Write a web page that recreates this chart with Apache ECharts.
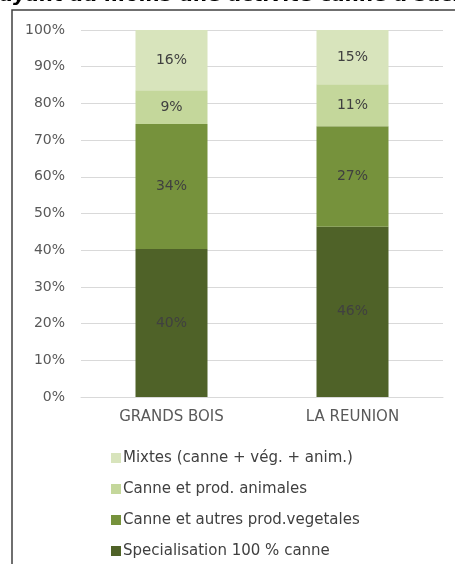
<!DOCTYPE html>
<html>
<head>
<meta charset="utf-8">
<style>
  html, body { margin: 0; padding: 0; background: #fff; }
  #chart { width: 455px; height: 564px; }
</style>
<script src="https://cdn.jsdelivr.net/npm/echarts@6/dist/echarts.min.js"></script>
</head>
<body>
<div id="chart"></div>
<script>
var categories = ['GRANDS BOIS', 'LA REUNION'];
var seriesNames = [
    'Specialisation 100 % canne',
    'Canne et autres prod.vegetales',
    'Canne et prod. animales',
    'Mixtes (canne + vég. + anim.)'
];
var specialisation = [40.3, 46.4];
var autresVegetales = [34.1, 27.4];
var prodAnimales = [9.2, 11.4];
var mixtes = [16.4, 14.8];
var yTicks = [0, 10, 20, 30, 40, 50, 60, 70, 80, 90, 100];

var colors = ['#4f6228', '#76923c', '#c4d79b', '#d8e4bc'];
var values = [specialisation, autresVegetales, prodAnimales, mixtes];
var font = 'DejaVu Sans';

~function () {
    var myChart = echarts.init(document.getElementById('chart'));
    var series = [];
    for (var i = 0; i < seriesNames.length; i++) {
        series.push({
            name: seriesNames[i],
            type: 'bar',
            stack: 'total',
            barWidth: 72,
            data: values[i],
            itemStyle: {color: colors[i]},
            label: {
                show: true,
                position: 'inside',
                color: '#404040',
                fontFamily: font,
                fontSize: 14,
                formatter: function (p) {
                    return Math.round(p.value) + '%';
                }
            }
        });
    }
    var option = {
        animation: false,
        color: colors,
        graphic: [
            {
                type: 'rect',
                shape: {x: 12, y: 10, width: 600, height: 700},
                style: {fill: 'none', stroke: '#404040', lineWidth: 1.5}
            },
            {
                type: 'text',
                x: 0,
                y: 5.8,
                style: {
                    text: 'ayant au moins une activité canne à sucre',
                    fill: '#000',
                    font: 'italic bold 20px "DejaVu Sans"',
                    verticalAlign: 'bottom'
                }
            }
        ],
        legend: {
            orient: 'vertical',
            left: 106,
            top: 444,
            height: 130,
            itemWidth: 10,
            itemHeight: 10,
            itemGap: 13,
            icon: 'rect',
            data: seriesNames.slice().reverse(),
            textStyle: {color: '#404040', fontFamily: font, fontSize: 15, lineHeight: 18, padding: [0, 0, 0, -3]}
        },
        grid: {
            left: 81,
            right: 12,
            top: 30,
            bottom: 167
        },
        xAxis: [
            {
                type: 'category',
                data: categories,
                axisLine: {lineStyle: {color: '#d9d9d9', width: 1}},
                axisTick: {show: false},
                axisLabel: {color: '#595959', fontFamily: font, fontSize: 15, margin: 13}
            }
        ],
        yAxis: [
            {
                type: 'value',
                min: yTicks[0],
                max: yTicks[yTicks.length - 1],
                interval: 10,
                axisLine: {show: false},
                axisTick: {show: false},
                splitLine: {lineStyle: {color: '#d9d9d9', width: 1}},
                axisLabel: {
                    color: '#595959',
                    fontFamily: font,
                    fontSize: 14,
                    margin: 16,
                    formatter: '{value}%'
                }
            }
        ],
        series: series
    };
    myChart.setOption(option);
}();
</script>
</body>
</html>
